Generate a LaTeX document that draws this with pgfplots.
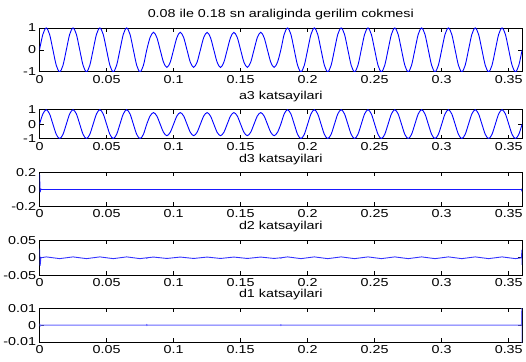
\documentclass[border=0pt]{standalone}
\usepackage{fontspec}
\setmainfont{Liberation Sans}[FakeStretch=1.25]
\usepackage{pgfplots}
\usepackage{pgfplotstable}
\pgfplotsset{compat=1.18}

\pgfplotstableread[row sep=\\]{
x y\\
0 0\\ 0.0025 0.7071\\ 0.005 1\\ 0.0075 0.7071\\ 0.01 0\\ 0.0125 -0.7071\\ 0.015 -1\\ 0.0175 -0.7071\\
0.02 0\\ 0.0225 0.7071\\ 0.025 1\\ 0.0275 0.7071\\ 0.03 0\\ 0.0325 -0.7071\\ 0.035 -1\\ 0.0375 -0.7071\\
0.04 0\\ 0.0425 0.7071\\ 0.045 1\\ 0.0475 0.7071\\ 0.05 0\\ 0.0525 -0.7071\\ 0.055 -1\\ 0.0575 -0.7071\\
0.06 0\\ 0.0625 0.7071\\ 0.065 1\\ 0.0675 0.7071\\ 0.07 0\\ 0.0725 -0.7071\\ 0.075 -1\\ 0.0775 -0.7071\\
0.08 0\\ 0.0825 0.5657\\ 0.085 0.8\\ 0.0875 0.5657\\ 0.09 0\\ 0.0925 -0.5657\\ 0.095 -0.8\\ 0.0975 -0.5657\\
0.1 0\\ 0.1025 0.5657\\ 0.105 0.8\\ 0.1075 0.5657\\ 0.11 0\\ 0.1125 -0.5657\\ 0.115 -0.8\\ 0.1175 -0.5657\\
0.12 0\\ 0.1225 0.5657\\ 0.125 0.8\\ 0.1275 0.5657\\ 0.13 0\\ 0.1325 -0.5657\\ 0.135 -0.8\\ 0.1375 -0.5657\\
0.14 0\\ 0.1425 0.5657\\ 0.145 0.8\\ 0.1475 0.5657\\ 0.15 0\\ 0.1525 -0.5657\\ 0.155 -0.8\\ 0.1575 -0.5657\\
0.16 0\\ 0.1625 0.5657\\ 0.165 0.8\\ 0.1675 0.5657\\ 0.17 0\\ 0.1725 -0.5657\\ 0.175 -0.8\\ 0.1775 -0.5657\\
0.18 0\\ 0.1825 0.7071\\ 0.185 1\\ 0.1875 0.7071\\ 0.19 0\\ 0.1925 -0.7071\\ 0.195 -1\\ 0.1975 -0.7071\\
0.2 0\\ 0.2025 0.7071\\ 0.205 1\\ 0.2075 0.7071\\ 0.21 0\\ 0.2125 -0.7071\\ 0.215 -1\\ 0.2175 -0.7071\\
0.22 0\\ 0.2225 0.7071\\ 0.225 1\\ 0.2275 0.7071\\ 0.23 0\\ 0.2325 -0.7071\\ 0.235 -1\\ 0.2375 -0.7071\\
0.24 0\\ 0.2425 0.7071\\ 0.245 1\\ 0.2475 0.7071\\ 0.25 0\\ 0.2525 -0.7071\\ 0.255 -1\\ 0.2575 -0.7071\\
0.26 0\\ 0.2625 0.7071\\ 0.265 1\\ 0.2675 0.7071\\ 0.27 0\\ 0.2725 -0.7071\\ 0.275 -1\\ 0.2775 -0.7071\\
0.28 0\\ 0.2825 0.7071\\ 0.285 1\\ 0.2875 0.7071\\ 0.29 0\\ 0.2925 -0.7071\\ 0.295 -1\\ 0.2975 -0.7071\\
0.3 0\\ 0.3025 0.7071\\ 0.305 1\\ 0.3075 0.7071\\ 0.31 0\\ 0.3125 -0.7071\\ 0.315 -1\\ 0.3175 -0.7071\\
0.32 0\\ 0.3225 0.7071\\ 0.325 1\\ 0.3275 0.7071\\ 0.33 0\\ 0.3325 -0.7071\\ 0.335 -1\\ 0.3375 -0.7071\\
0.34 0\\ 0.3425 0.7071\\ 0.345 1\\ 0.3475 0.7071\\ 0.35 0\\ 0.3525 -0.7071\\ 0.355 -1\\ 0.3575 -0.7071\\
0.36 0\\
}\sinetab

\newcommand{\lblfont}{\fontsize{11.5}{13.8}\selectfont}

\pgfplotsset{
  mat/.style={
    scale only axis, width=484pt,
    anchor=north west,
    xmin=0, xmax=0.36,
    xtick={0,0.05,0.1,0.15,0.2,0.25,0.3,0.35},
    xticklabels={0,0.05,0.1,0.15,0.2,0.25,0.3,0.35},
    scaled y ticks=false, scaled x ticks=false,
    tick align=inside,
    major tick length=4pt,
    axis line style={line width=0.8pt},
    every tick/.style={black, line width=0.6pt},
    tick label style={font=\lblfont},
    title style={font=\lblfont, yshift=-1.5pt},
  },
}

\begin{document}
\begin{tikzpicture}
\path (0,0) rectangle (526pt,-363pt);

\begin{axis}[mat, at={(39pt,-28pt)}, height=44pt,
  ymin=-1, ymax=1, ytick={-1,0,1}, yticklabels={-1,0,1},
  title={0.08 ile 0.18 sn araliginda gerilim cokmesi}]
\addplot[blue, line width=0.9pt, smooth] table[x=x,y=y] {\sinetab};
\end{axis}

\begin{axis}[mat, at={(39pt,-110pt)}, height=29pt,
  ymin=-1, ymax=1, ytick={-1,0,1}, yticklabels={-1,0,1},
  title={a3 katsayilari}]
\addplot[blue, line width=0.9pt, smooth] table[x=x,y=y] {\sinetab};
\end{axis}

\begin{axis}[mat, at={(39pt,-173pt)}, height=34pt,
  ymin=-0.2, ymax=0.2, ytick={-0.2,0,0.2}, yticklabels={-0.2,0,0.2},
  title={d3 katsayilari}]
\addplot[blue!90, line width=0.9pt, line join=round] coordinates {
(0,0.18) (0.0005,-0.03) (0.001,0.005) (0.0015,0) (0.08,0) (0.18,0) (0.3595,0) (0.3598,-0.02) (0.36,0.012)
};
\end{axis}

\begin{axis}[mat, at={(39pt,-241pt)}, height=35pt,
  ymin=-0.05, ymax=0.05, ytick={-0.05,0,0.05}, yticklabels={-0.05,0,0.05},
  title={d2 katsayilari}]
\addplot[blue!80, line width=0.9pt, line join=round] coordinates {
(0,0.026) (0.0005,-0.022) (0.001,0) (0.005,0.0025) (0.01,0) (0.015,-0.0025)
(0.02,0) (0.025,0.0025) (0.03,0) (0.035,-0.0025)
(0.04,0) (0.045,0.0025) (0.05,0) (0.055,-0.0025)
(0.06,0) (0.065,0.0025) (0.07,0) (0.075,-0.0025)
(0.08,0) (0.0801,-0.002) (0.0802,0) (0.085,0.002) (0.09,0) (0.095,-0.002)
(0.1,0) (0.105,0.002) (0.11,0) (0.115,-0.002)
(0.12,0) (0.125,0.002) (0.13,0) (0.135,-0.002)
(0.14,0) (0.145,0.002) (0.15,0) (0.155,-0.002)
(0.16,0) (0.165,0.002) (0.17,0) (0.175,-0.002)
(0.18,0) (0.1801,-0.002) (0.1802,0) (0.185,0.0025) (0.19,0) (0.195,-0.0025)
(0.2,0) (0.205,0.0025) (0.21,0) (0.215,-0.0025)
(0.22,0) (0.225,0.0025) (0.23,0) (0.235,-0.0025)
(0.24,0) (0.245,0.0025) (0.25,0) (0.255,-0.0025)
(0.26,0) (0.265,0.0025) (0.27,0) (0.275,-0.0025)
(0.28,0) (0.285,0.0025) (0.29,0) (0.295,-0.0025)
(0.3,0) (0.305,0.0025) (0.31,0) (0.315,-0.0025)
(0.32,0) (0.325,0.0025) (0.33,0) (0.335,-0.0025)
(0.34,0) (0.345,0.0025) (0.35,0) (0.355,-0.0025)
(0.3595,0) (0.3598,0.022) (0.36,-0.02)
};
\end{axis}

\begin{axis}[mat, at={(39pt,-309pt)}, height=34pt,
  ymin=-0.01, ymax=0.01, ytick={-0.01,0,0.01}, yticklabels={-0.01,0,0.01},
  title={d1 katsayilari}]
\addplot[blue!60, line width=1pt, line join=round] coordinates {
(0,0.0008) (0.0005,-0.0006) (0.001,0) (0.0799,0) (0.08,0.0004) (0.0801,-0.0004) (0.0802,0)
(0.1799,0) (0.18,-0.0004) (0.1801,0.0003) (0.1802,0) (0.3595,0) (0.3598,0.012) (0.36,-0.012)
};
\end{axis}
\end{tikzpicture}
\end{document}
